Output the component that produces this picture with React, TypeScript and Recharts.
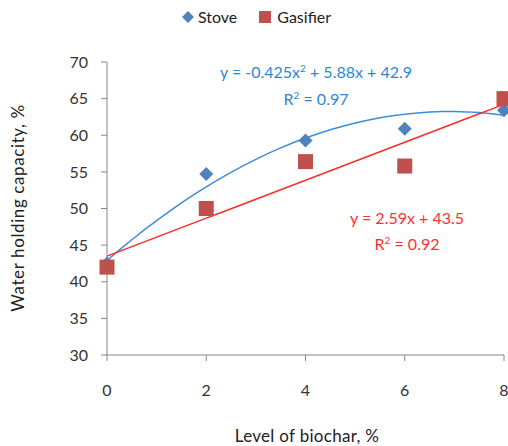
import { ComposedChart, Scatter, Line, XAxis, YAxis } from 'recharts';

// biochar level (%) and water holding capacity (%) per kiln type
const levels = [0, 2, 4, 6, 8];
const stoveValues = [42.5, 54.7, 59.3, 60.9, 63.4];
const gasifierValues = [42, 50, 56.4, 55.8, 65];

const xTicks = [0, 2, 4, 6, 8];
const yTicks = [30, 35, 40, 45, 50, 55, 60, 65, 70];

// fitted trendlines as reported on the chart
const stoveFit = [-0.425, 5.88, 42.9]; // a x² + b x + c
const gasifierFit = [2.59, 43.5]; // m x + k
const fitStep = 0.25;

const stoveData = levels.map((x, i) => ({ x, y: stoveValues[i] }));
const gasifierData = levels.map((x, i) => ({ x, y: gasifierValues[i] }));

const trendData: { x: number; stoveFit: number; gasifierFit: number }[] = [];
for (let x = 0; x <= 8 + 1e-9; x += fitStep) {
  trendData.push({
    x,
    stoveFit: stoveFit[0] * x * x + stoveFit[1] * x + stoveFit[2],
    gasifierFit: gasifierFit[0] * x + gasifierFit[1],
  });
}

const FONT = 'Lato, "Open Sans", sans-serif';
const AXIS = '#868686';
const TEXT = '#333';
const STOVE = '#4F81BD';
const GASIFIER = '#C0504D';

const Diamond = (p: any) => (
  <path
    d={`M${p.cx},${p.cy - 7}L${p.cx + 7},${p.cy}L${p.cx},${p.cy + 7}L${p.cx - 7},${p.cy}Z`}
    fill={STOVE}
  />
);

const Square = (p: any) => (
  <rect x={p.cx - 7.5} y={p.cy - 7.5} width={15} height={15} fill={GASIFIER} />
);

const sup = { fontSize: 10, verticalAlign: 'super', lineHeight: 0 } as const;

function ChartLegend() {
  return (
    <div style={{ position: 'absolute', left: 0, top: 7, width: 508, display: 'flex', justifyContent: 'center', alignItems: 'center', paddingLeft: 4, boxSizing: 'border-box', fontFamily: FONT, fontSize: 16, lineHeight: '20px', color: '#222' }}>
      <svg width={14} height={14} style={{ marginRight: 3 }}>
        <path d="M7,1L13,7L7,13L1,7Z" fill={STOVE} />
      </svg>
      <span>Stove</span>
      <svg width={12} height={12} style={{ marginLeft: 22, marginRight: 6 }}>
        <rect x={0} y={0} width={12} height={12} fill={GASIFIER} />
      </svg>
      <span>Gasifier</span>
    </div>
  );
}

export default function App() {
  return (
    <div style={{ position: 'absolute', left: 0, top: 0, width: 508, height: 446, background: '#fff', overflow: 'hidden' }}>
      <ComposedChart
        width={508}
        height={446}
        data={trendData}
        margin={{ top: 62, right: 4, bottom: 31, left: 47 }}
      >
        <XAxis
          dataKey="x"
          type="number"
          domain={[0, 8]}
          ticks={xTicks}
          interval={0}
          height={60}
          stroke={AXIS}
          tickSize={6}
          tickMargin={24}
          tick={{ fill: TEXT, fontSize: 16, fontFamily: FONT }}
        />
        <YAxis
          type="number"
          domain={[30, 70]}
          ticks={yTicks}
          interval={0}
          width={60}
          stroke={AXIS}
          tickSize={6}
          tickMargin={13}
          tick={{ fill: TEXT, fontSize: 16, fontFamily: FONT }}
        />
        <Scatter name="Stove" data={stoveData} dataKey="y" shape={Diamond} isAnimationActive={false} />
        <Scatter name="Gasifier" data={gasifierData} dataKey="y" shape={Square} isAnimationActive={false} />
        <Line dataKey="stoveFit" type="linear" stroke="#3A8EDB" strokeWidth={1.5} dot={false} activeDot={false} isAnimationActive={false} />
        <Line dataKey="gasifierFit" type="linear" stroke="#FF2A2A" strokeWidth={1.5} dot={false} activeDot={false} isAnimationActive={false} />
      </ComposedChart>

      <ChartLegend />

      {/* trendline equations */}
      <div style={{ position: 'absolute', left: 186, top: 62, width: 260, textAlign: 'center', fontFamily: FONT, fontSize: 16, lineHeight: '20px', color: '#2E86D6' }}>
        <div>y = -0.425x<span style={sup}>2</span> + 5.88x + 42.9</div>
        <div style={{ marginTop: 7 }}>R<span style={sup}>2</span> = 0.97</div>
      </div>
      <div style={{ position: 'absolute', left: 277, top: 208, width: 260, textAlign: 'center', fontFamily: FONT, fontSize: 16, lineHeight: '20px', color: '#FF3030' }}>
        <div>y = 2.59x + 43.5</div>
        <div style={{ marginTop: 6 }}>R<span style={sup}>2</span> = 0.92</div>
      </div>

      {/* axis titles */}
      <div style={{ position: 'absolute', left: 307 - 120, top: 426, width: 240, textAlign: 'center', fontFamily: FONT, fontSize: 17, lineHeight: '20px', color: '#222', letterSpacing: 0.3 }}>
        Level of biochar, %
      </div>
      <div style={{ position: 'absolute', left: 18 - 130, top: 208 - 10, width: 260, textAlign: 'center', fontFamily: FONT, fontSize: 17, lineHeight: '20px', color: '#222', letterSpacing: 0.6, transform: 'rotate(-90deg)' }}>
        Water holding capacity, %
      </div>
    </div>
  );
}
